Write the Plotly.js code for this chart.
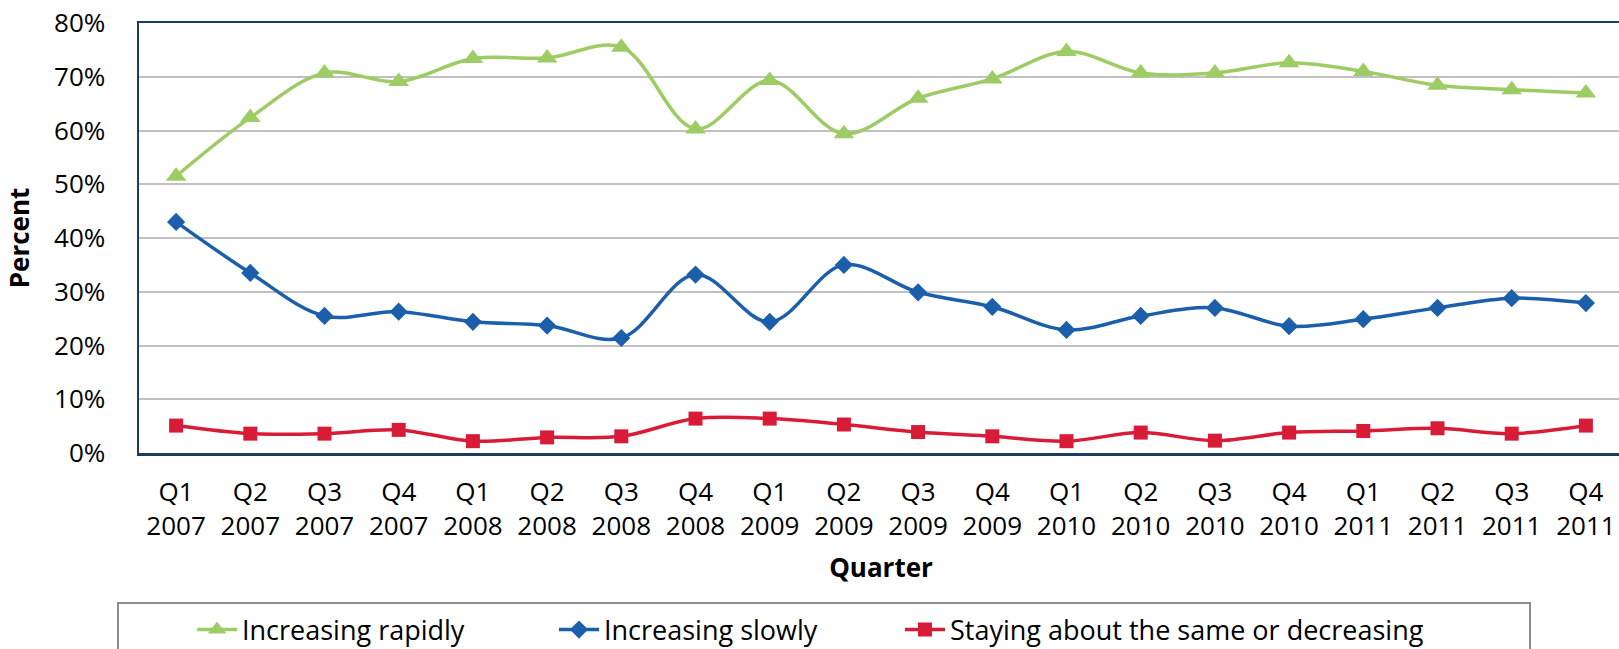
<!DOCTYPE html>
<html>
<head>
<meta charset="utf-8">
<script src="https://cdn.plot.ly/plotly-3.0.1.min.js"></script>
<style>
html,body{margin:0;padding:0;overflow:hidden;background:#fff;}
#chart{width:1624px;height:670px;}
</style>
</head>
<body>
<div id="chart"></div>
<script>
const quarters = ["Q1","Q2","Q3","Q4","Q1","Q2","Q3","Q4","Q1","Q2","Q3","Q4","Q1","Q2","Q3","Q4","Q1","Q2","Q3","Q4"];
const years = ["2007","2007","2007","2007","2008","2008","2008","2008","2009","2009","2009","2009","2010","2010","2010","2010","2011","2011","2011","2011"];
const increasingRapidly = [51.5,62.4,70.7,69.1,73.4,73.5,75.5,60.3,69.3,59.4,66.0,69.6,74.7,70.7,70.7,72.6,71.0,68.4,67.6,67.0];
const increasingSlowly = [43.0,33.5,25.5,26.3,24.4,23.7,21.4,33.2,24.4,35.0,29.9,27.2,22.9,25.5,27.0,23.6,24.9,27.0,28.8,27.9];
const stayingSame = [5.1,3.6,3.6,4.3,2.2,2.9,3.1,6.4,6.4,5.3,3.9,3.1,2.2,3.8,2.3,3.8,4.1,4.6,3.6,5.1];
const seriesNames = ["Increasing rapidly","Increasing slowly","Staying about the same or decreasing"];

const cats = quarters.map((q,i)=>q+"<br>"+years[i]);
const FONT = "Open Sans, DejaVu Sans, sans-serif";

function tr(name, y, color, symbol, size, leg){
  return {x:cats, y:y, name:name, type:"scatter", mode:"lines+markers", legend:leg,
    line:{color:color, width:3.5, shape:"spline", smoothing:1},
    marker:{color:color, symbol:symbol, size:size}};
}
const data = [
  tr(seriesNames[0], increasingRapidly, "#9ccc63", "triangle-up", 18, "legend"),
  tr(seriesNames[1], increasingSlowly, "#1b5faa", "diamond", 14, "legend2"),
  tr(seriesNames[2], stayingSame, "#d81c38", "square", 14, "legend3")
];

const W=1624, H=670, L=139, R=1, T=23, B=217;
const pw=W-L-R, ph=H-T-B;
const px=v=>(v-L)/pw, py=v=>(T+ph-v)/ph;

function leg(xpix){
  return {orientation:"h", xref:"container", yref:"container", x:xpix/W, xanchor:"left", y:1-(630/H), yanchor:"middle",
    font:{family:FONT,size:27,color:"#000"}, bgcolor:"rgba(0,0,0,0)", borderwidth:0, itemwidth:40};
}

const layout = {
  width:W, height:H,
  margin:{l:L,r:R,t:T,b:B},
  paper_bgcolor:"#fff", plot_bgcolor:"#fff",
  font:{family:FONT, color:"#000", size:26},
  showlegend:true,
  xaxis:{type:"category", categoryorder:"array", categoryarray:cats, range:[-0.5,19.5],
    showgrid:false, zeroline:false, showline:true, mirror:true, linecolor:"#1f3a5f", linewidth:2.5,
    ticks:"", tickfont:{family:FONT,size:26,color:"#000"}, ticklabelstandoff:14,
    title:{text:"Quarter", font:{family:FONT,size:26,color:"#000",weight:"bold"}, standoff:18}, automargin:false},
  yaxis:{range:[0,80], dtick:10, ticksuffix:"%", showgrid:true, gridcolor:"#c0c0c0", gridwidth:2,
    zeroline:false, showline:true, mirror:true, linecolor:"#1f3a5f", linewidth:2.5,
    ticks:"", tickfont:{family:FONT,size:26,color:"#000"}, ticklabelstandoff:26,
    title:{text:"Percent", font:{family:FONT,size:26,color:"#000",weight:"bold"}, standoff:17}, automargin:false},
  legend:leg(192),
  legend2:leg(554),
  legend3:leg(900),
  shapes:[{type:"rect", xref:"paper", yref:"paper", x0:px(118), x1:px(1530), y0:py(603), y1:py(668),
    line:{color:"#8c8c8c", width:2}, fillcolor:"rgba(0,0,0,0)", layer:"below"}]
};
Plotly.newPlot("chart", data, layout, {displayModeBar:false, staticPlot:true});
</script>
</body>
</html>
